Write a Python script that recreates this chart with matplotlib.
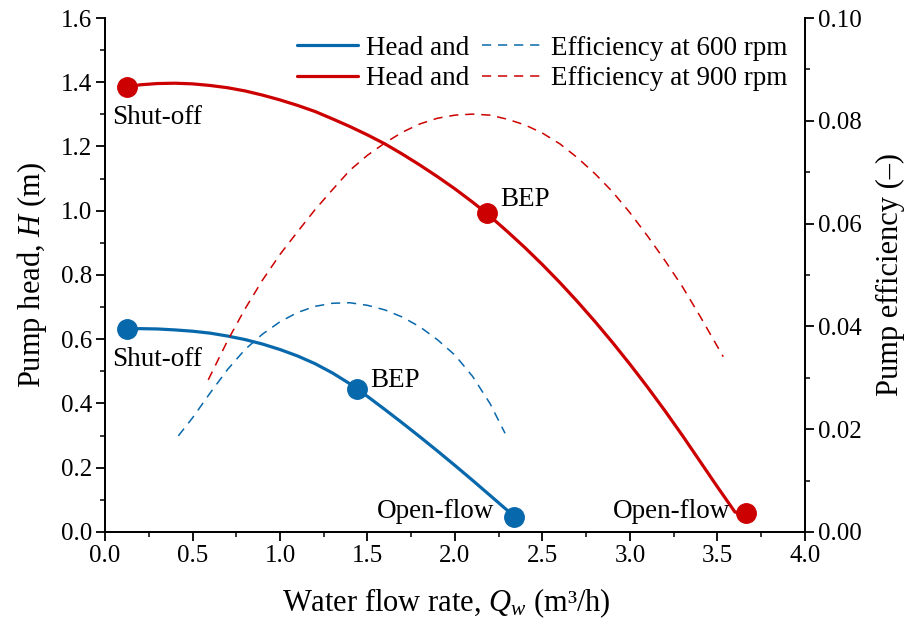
import matplotlib
matplotlib.use("Agg")
import matplotlib.pyplot as plt
from matplotlib.ticker import MultipleLocator, FormatStrFormatter

plt.rcParams['font.family'] = ['Liberation Serif', 'DejaVu Serif']
plt.rcParams['mathtext.fontset'] = 'custom'
plt.rcParams['mathtext.rm'] = 'Liberation Serif'
plt.rcParams['mathtext.it'] = 'Liberation Serif:italic'

BLUE = '#0868ac'
RED = '#cc0000'

# Head curve at 600 rpm (flow in m3/h, head in m)
q_head_600 = [0.126, 0.2, 0.3, 0.4, 0.5, 0.6, 0.7, 0.8, 0.9, 1.0, 1.1, 1.2, 1.3,
              1.4, 1.5, 1.6, 1.7, 1.8, 1.9, 2.0, 2.1, 2.2, 2.34]
h_600 = [0.631, 0.633, 0.632, 0.629, 0.625, 0.619, 0.610, 0.599, 0.585, 0.568, 0.548, 0.524, 0.495,
         0.461, 0.422, 0.381, 0.339, 0.296, 0.252, 0.207, 0.161, 0.114, 0.048]

# Head curve at 900 rpm
q_head_900 = [0.126, 0.2, 0.3, 0.4, 0.5, 0.6, 0.7, 0.8, 0.9, 1.0, 1.1, 1.2, 1.3, 1.4, 1.5,
              1.6, 1.7, 1.8, 1.9, 2.0, 2.1, 2.181, 2.3, 2.4, 2.5, 2.6, 2.7, 2.8, 2.9,
              3.0, 3.1, 3.2, 3.3, 3.4, 3.5, 3.6, 3.661]
h_900 = [1.385, 1.392, 1.396, 1.397, 1.395, 1.390, 1.383, 1.373, 1.360, 1.345, 1.328, 1.309, 1.286,
         1.262, 1.236, 1.208, 1.176, 1.142, 1.106, 1.068, 1.027, 0.992, 0.935, 0.885, 0.832,
         0.776, 0.717, 0.655, 0.590, 0.522, 0.451, 0.377, 0.300, 0.220, 0.140, 0.062, 0.058]

# Efficiency curve at 600 rpm
q_eff_600 = [0.419, 0.5, 0.6, 0.7, 0.8, 0.9, 1.0, 1.1, 1.2, 1.3, 1.4, 1.5, 1.6, 1.7,
             1.8, 1.9, 2.0, 2.1, 2.2, 2.286]
eff_600 = [0.0187, 0.0222, 0.0270, 0.0316, 0.0355, 0.0385, 0.0409, 0.0427, 0.0439, 0.0445,
           0.0446, 0.0441, 0.0432, 0.0418, 0.0399, 0.0374, 0.0344, 0.0303, 0.0250, 0.0192]

# Efficiency curve at 900 rpm
q_eff_900 = [0.59, 0.7, 0.8, 0.9, 1.0, 1.1, 1.2, 1.3, 1.4, 1.5, 1.6, 1.7, 1.8, 1.9, 2.0,
             2.1, 2.2, 2.3, 2.4, 2.5, 2.6, 2.7, 2.8, 2.9, 3.0, 3.1, 3.2, 3.3, 3.4, 3.533]
eff_900 = [0.0296, 0.0372, 0.0434, 0.0490, 0.0540, 0.0584, 0.0627, 0.0666, 0.0704, 0.0733,
           0.0757, 0.0778, 0.0794, 0.0805, 0.0811, 0.0813, 0.0811, 0.0803, 0.0792, 0.0776,
           0.0755, 0.0728, 0.0697, 0.0662, 0.0621, 0.0576, 0.0528, 0.0477, 0.0420, 0.0341]

# Operating points: shut-off, BEP, open-flow
pts_q_600 = [0.126, 1.442, 2.34]
pts_h_600 = [0.631, 0.444, 0.048]
pts_q_900 = [0.126, 2.181, 3.661]
pts_h_900 = [1.385, 0.992, 0.058]
pt_labels = ['Shut-off', 'BEP', 'Open-flow']

fig = plt.figure(figsize=(9.06, 6.23), dpi=100)
ax = fig.add_axes([0.1159, 0.1461, 0.7726, 0.825])
ax2 = ax.twinx()

lw_solid = 2.3
lw_dash = 1.1
dash = (0, (6, 4.5))

l1, = ax.plot(q_head_600, h_600, color=BLUE, lw=lw_solid, solid_capstyle='round')
l2, = ax.plot(q_head_900, h_900, color=RED, lw=lw_solid, solid_capstyle='round')
ax.plot(pts_q_600, pts_h_600, 'o', color=BLUE, ms=14, zorder=5)
ax.plot(pts_q_900, pts_h_900, 'o', color=RED, ms=14, zorder=5)

d1, = ax2.plot(q_eff_600, eff_600, color=BLUE, lw=lw_dash, linestyle=dash)
d2, = ax2.plot(q_eff_900, eff_900, color=RED, lw=lw_dash, linestyle=dash)

fs_ann = 19.5
# Shut-off labels below the markers
ax.text(0.30, 0.517, pt_labels[0], fontsize=fs_ann, ha='center', va='baseline')
ax.text(0.30, 1.270, pt_labels[0], fontsize=fs_ann, ha='center', va='baseline')
# BEP labels up-right of the markers
ax.text(1.514, 0.451, pt_labels[1], fontsize=fs_ann, ha='left', va='baseline')
ax.text(2.257, 1.015, pt_labels[1], fontsize=fs_ann, ha='left', va='baseline')
# Open-flow labels left of the markers
ax.text(2.222, 0.045, pt_labels[2], fontsize=fs_ann, ha='right', va='baseline')
ax.text(3.571, 0.045, pt_labels[2], fontsize=fs_ann, ha='right', va='baseline')

ax.set_xlim(0, 4.0)
ax.set_ylim(0, 1.6)
ax2.set_ylim(0, 0.10)

ax.xaxis.set_major_locator(MultipleLocator(0.5))
ax.xaxis.set_minor_locator(MultipleLocator(0.25))
ax.yaxis.set_major_locator(MultipleLocator(0.2))
ax.yaxis.set_minor_locator(MultipleLocator(0.1))
ax2.yaxis.set_major_locator(MultipleLocator(0.02))
ax2.yaxis.set_minor_locator(MultipleLocator(0.01))
ax.xaxis.set_major_formatter(FormatStrFormatter('%.1f'))
ax.yaxis.set_major_formatter(FormatStrFormatter('%.1f'))
ax2.yaxis.set_major_formatter(FormatStrFormatter('%.2f'))

for a in (ax, ax2):
    a.spines['top'].set_visible(False)
    for s in a.spines.values():
        s.set_linewidth(1.3)
    a.tick_params(which='major', direction='out', length=6.5, width=1.3, labelsize=18, pad=3)
    a.tick_params(which='minor', direction='out', length=3.5, width=1.1)

ax.set_xlabel(r'Water flow rate, $Q_w$ (m³/h)', fontsize=22, labelpad=14)
ax.xaxis.label.set_x(0.488)
ax.set_ylabel(r'Pump head, $H$ (m)', fontsize=22, labelpad=8)
ax2.set_ylabel('Pump efficiency (–)', fontsize=22, labelpad=10)

ax2.legend([l1, l2, d1, d2],
           ['Head and', 'Head and', 'Efficiency at 600 rpm', 'Efficiency at 900 rpm'],
           ncol=2, loc='upper right', bbox_to_anchor=(0.99, 0.987), frameon=False,
           fontsize=19.5, handlelength=2.25, handletextpad=0.3, columnspacing=0.45,
           labelspacing=0.22, borderaxespad=0.0)

fig.savefig('out.png', dpi=100)
